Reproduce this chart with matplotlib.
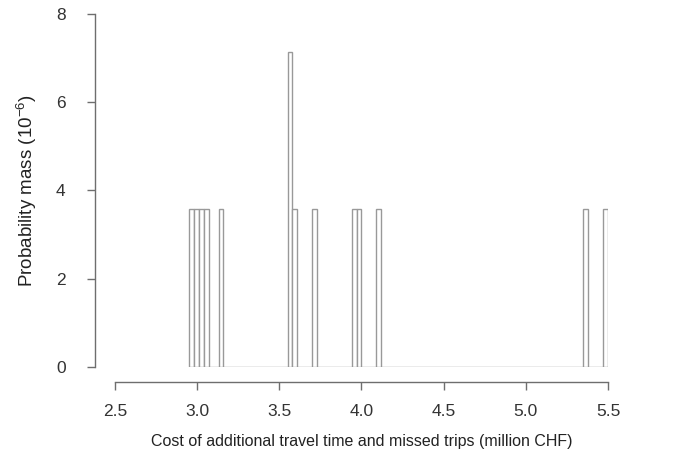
import numpy as np
import matplotlib
matplotlib.use("Agg")
import matplotlib.pyplot as plt

plt.rcParams['font.family'] = ['Liberation Sans', 'DejaVu Sans']

# histogram bins (million CHF)
bin_start = 2.95
bin_end = 5.50
n_bins = 85

# simulated cost outcomes (bin midpoints, million CHF), each with equal mass
costs = [2.965, 2.995, 3.025, 3.055, 3.145, 3.565, 3.565, 3.595,
         3.715, 3.955, 3.985, 4.105, 5.365, 5.485]
mass_each = 3.57  # 10^-6

xticks = [2.5, 3.0, 3.5, 4.0, 4.5, 5.0, 5.5]
yticks = [0, 2, 4, 6, 8]

fig = plt.figure(figsize=(6.81, 4.58), dpi=100)
ax = fig.add_axes([115/681, 91.3/458, 493/681, 352.7/458])

bins = np.linspace(bin_start, bin_end, n_bins + 1)
ax.hist(costs, bins=bins, weights=[mass_each] * len(costs),
        histtype='bar', facecolor='white', edgecolor='#999999', linewidth=1.0)

ax.set_xlim(2.5, 5.5)
ax.set_ylim(0, 8)
ax.set_xticks(xticks)
ax.set_xticklabels([f"{t:.1f}" for t in xticks])
ax.set_yticks(yticks)
ax.set_yticklabels([str(t) for t in yticks], rotation=90, va='center')

for s in ['top', 'right']:
    ax.spines[s].set_visible(False)
ax.spines['left'].set_position(('outward', 14.5))
ax.spines['bottom'].set_position(('outward', 11))
ax.spines['left'].set_bounds(0, 8)
ax.spines['bottom'].set_bounds(2.5, 5.5)
for s in ['left', 'bottom']:
    ax.spines[s].set_color('#6e6e6e')
    ax.spines[s].set_linewidth(1.0)
ax.tick_params(colors='#6e6e6e', labelcolor='#333333', labelsize=12.5,
               length=6, width=1.0)
ax.tick_params(axis='x', pad=9.5)
ax.tick_params(axis='y', pad=15)

ax.set_xlabel('Cost of additional travel time and missed trips (million CHF)',
              fontsize=11.5, color='#222222', labelpad=11)
ax.set_ylabel('Probability mass (10$^{\\mathregular{-6}}$)',
              fontsize=13.5, color='#222222', labelpad=12)

fig.savefig('out.png', dpi=100, facecolor='white')
